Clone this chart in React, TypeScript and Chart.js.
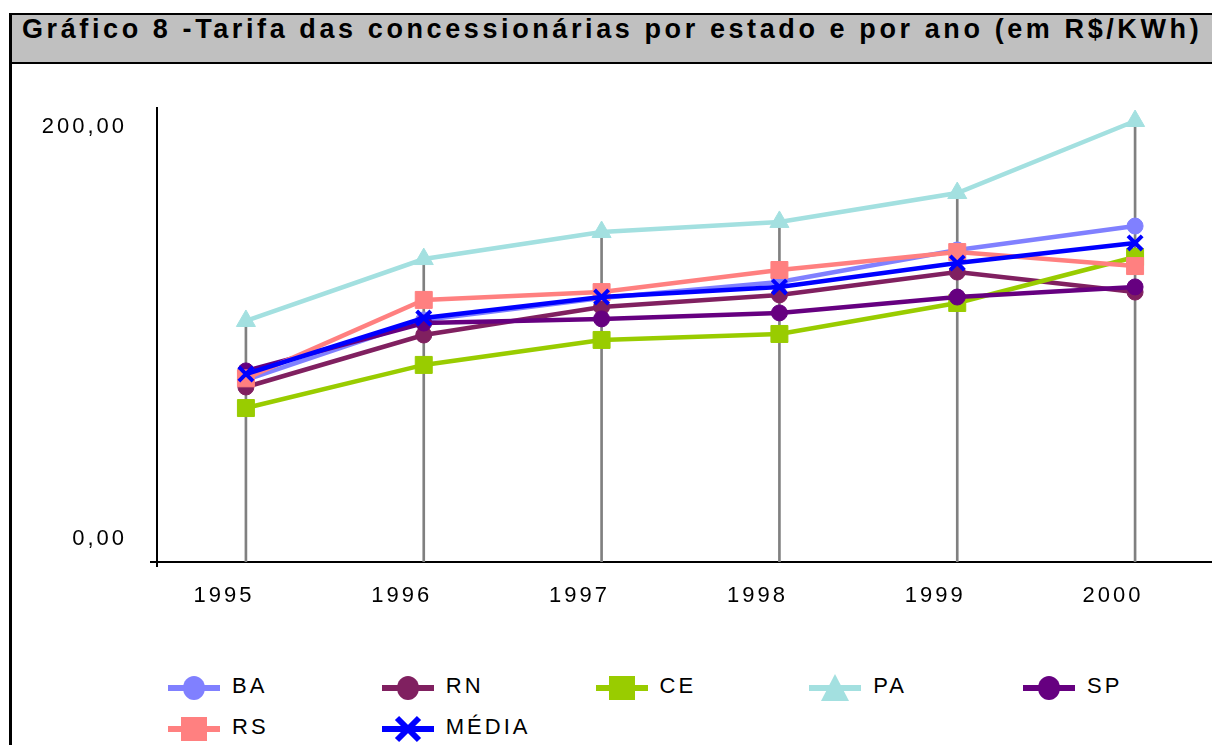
import React, { useEffect, useRef } from 'react';
import { Chart, registerables } from 'chart.js';

Chart.register(...registerables);

const years = ['1995', '1996', '1997', '1998', '1999', '2000'];
const BA = [77.2, 106.3, 116.9, 124.7, 140.2, 151.8];
const RN = [73.8, 99.0, 112.6, 118.4, 129.5, 119.8];
const CE = [63.6, 84.5, 96.6, 99.5, 114.5, 136.8];
const PA = [105.8, 135.8, 148.9, 153.8, 167.8, 202.7];
const SP = [81.6, 104.8, 106.8, 109.7, 117.4, 122.3];
const RS = [78.0, 116.0, 119.8, 130.5, 139.2, 132.4];
const MEDIA = [80.1, 107.2, 117.4, 122.3, 133.9, 143.6];
const yTickValues = [0, 200];
const Y_MIN = -11;
const Y_MAX = 209;

const TITLE = 'Gráfico 8 -Tarifa das concessionárias por estado e por ano (em R$/KWh)';
const FONT = '"Liberation Sans", Arial, Helvetica, sans-serif';

type Series = { label: string; data: number[]; color: string; style: string; radius: number };
const series: Series[] = [
  { label: 'BA', data: BA, color: '#8080ff', style: 'circle', radius: 8 },
  { label: 'RN', data: RN, color: '#802060', style: 'circle', radius: 8 },
  { label: 'CE', data: CE, color: '#99cc00', style: 'rect', radius: 12 },
  { label: 'PA', data: PA, color: '#a3e0e0', style: 'triangle', radius: 11 },
  { label: 'SP', data: SP, color: '#660080', style: 'circle', radius: 8 },
  { label: 'RS', data: RS, color: '#ff8080', style: 'rect', radius: 12 },
  { label: 'MÉDIA', data: MEDIA, color: '#0000ff', style: 'crossRot', radius: 10 },
];

const CW = 1240;
const CH = 650;

const spacingPlugin = {
  id: 'letterSpacing',
  beforeDraw(chart: any) {
    chart.ctx.letterSpacing = '3px';
  },
};

function Marker({ style, color }: { style: string; color: string }) {
  let shape: React.ReactNode = null;
  if (style === 'circle') shape = <ellipse cx={26} cy={15} rx={11} ry={12} fill={color} />;
  else if (style === 'rect') shape = <rect x={13} y={3} width={26} height={24} fill={color} />;
  else if (style === 'triangle') shape = <polygon points="26,1 40,28 12,28" fill={color} />;
  else
    shape = (
      <g stroke={color} strokeWidth={6}>
        <line x1={15} y1={4} x2={37} y2={26} />
        <line x1={37} y1={4} x2={15} y2={26} />
      </g>
    );
  return (
    <svg width={52} height={30} style={{ position: 'absolute', left: 0, top: 0 }}>
      <rect x={0} y={12} width={52} height={6} fill={color} />
      {shape}
    </svg>
  );
}

export default function App() {
  const ref = useRef<HTMLCanvasElement | null>(null);

  useEffect(() => {
    document.body.style.margin = '0';
    document.body.style.overflow = 'hidden';
    if (!ref.current) return;
    const maxes = years.map((_, i) => Math.max(...series.map((s) => s.data[i])));
    const datasets: any[] = series.map((s, i) => ({
      type: 'line',
      label: s.label,
      data: s.data,
      borderColor: s.color,
      backgroundColor: s.color,
      borderWidth: 4.5,
      tension: 0,
      pointStyle: s.style,
      pointRadius: s.radius,
      pointBackgroundColor: s.color,
      pointBorderColor: s.color,
      pointBorderWidth: s.style === 'crossRot' ? 4 : 1,
      order: series.length - i,
    }));
    datasets.push({
      type: 'bar',
      label: 'drop',
      data: maxes.map((m) => [Y_MIN, m]),
      backgroundColor: '#808080',
      barThickness: 2,
      order: 100,
    });
    const chart = new Chart(ref.current, {
      type: 'line',
      data: { labels: years, datasets },
      plugins: [spacingPlugin],
      options: {
        animation: false,
        responsive: false,
        maintainAspectRatio: false,
        layout: { padding: { left: 0, top: 108, right: CW - 1224, bottom: 0 } },
        plugins: { legend: { display: false }, tooltip: { enabled: false }, title: { display: false } },
        scales: {
          x: {
            type: 'category',
            offset: true,
            grid: {
              offset: true,
              drawOnChartArea: false,
              drawTicks: true,
              tickLength: 5,
              lineWidth: 2,
              color: (ctx: any) => (ctx.index === 0 ? '#000' : 'rgba(0,0,0,0)'),
            },
            border: { color: '#000', width: 2 },
            ticks: {
              color: '#000',
              font: { family: FONT, size: 22 },
              padding: 16,
              labelOffset: -22,
              maxRotation: 0,
              autoSkip: false,
            },
            afterFit: (s: any) => {
              s.height = CH - 562;
            },
          },
          y: {
            min: Y_MIN,
            max: Y_MAX,
            afterBuildTicks: (s: any) => {
              s.ticks = [Y_MIN, ...yTickValues].map((v) => ({ value: v }));
            },
            grid: {
              drawOnChartArea: false,
              drawTicks: true,
              tickLength: 7,
              lineWidth: 2,
              color: (ctx: any) => (ctx.tick && ctx.tick.value === Y_MIN ? '#000' : 'rgba(0,0,0,0)'),
            },
            border: { color: '#000', width: 2 },
            ticks: {
              color: '#000',
              font: { family: FONT, size: 22 },
              padding: 23,
              callback: (v: any) => (Number(v) === Y_MIN ? '' : Number(v).toFixed(2).replace('.', ',')),
            },
            afterFit: (s: any) => {
              s.width = 157;
            },
          },
        },
      } as any,
    });
    return () => chart.destroy();
  }, []);

  return (
    <div style={{ position: 'relative', width: 1212, height: 745, overflow: 'hidden', background: '#fff', fontFamily: FONT }}>
      <canvas ref={ref} width={CW} height={CH} style={{ position: 'absolute', left: 0, top: 0, width: CW, height: CH }} />
      <div
        style={{
          position: 'absolute',
          left: 9,
          top: 13,
          width: 1240,
          height: 47,
          background: '#c0c0c0',
          borderTop: '2px solid #000',
          borderLeft: '3px solid #000',
          borderBottom: '2px solid #000',
        }}
      />
      <div
        style={{
          position: 'absolute',
          left: 22,
          top: 14,
          lineHeight: '30px',
          fontSize: 27,
          fontWeight: 'bold',
          letterSpacing: '3.6px',
          whiteSpace: 'nowrap',
          color: '#000',
        }}
      >
        {TITLE}
      </div>
      <div style={{ position: 'absolute', left: 9, top: 64, width: 3, height: 681, background: '#000' }} />
      {series.map((s, i) => {
        const col = i % 5;
        const row = Math.floor(i / 5);
        const left = 168 + col * 213.75;
        const top = 673 + row * 41;
        return (
          <div key={s.label} style={{ position: 'absolute', left, top, height: 30, width: 200 }}>
            <Marker style={s.style} color={s.color} />
            <div
              style={{
                position: 'absolute',
                left: 64,
                top: 1,
                fontSize: 22,
                lineHeight: '24px',
                letterSpacing: '3px',
                color: '#000',
                whiteSpace: 'nowrap',
              }}
            >
              {s.label}
            </div>
          </div>
        );
      })}
    </div>
  );
}
